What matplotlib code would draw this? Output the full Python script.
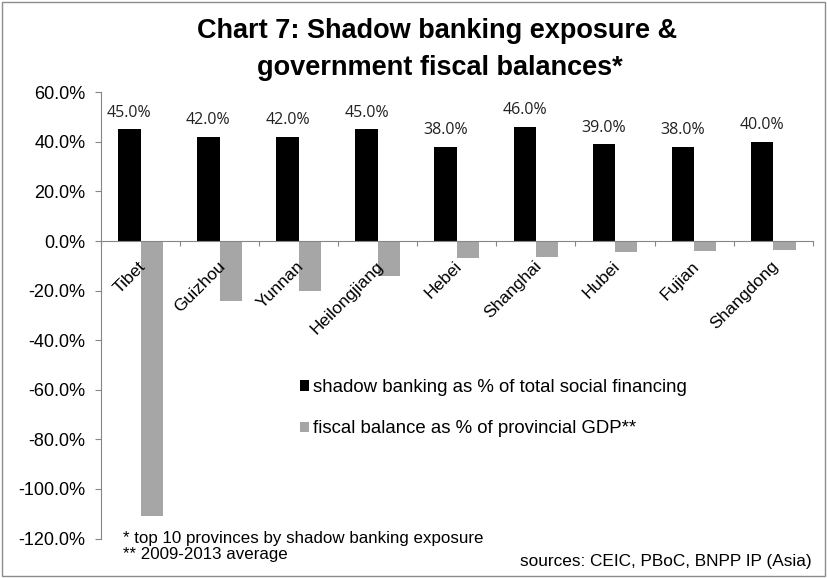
import matplotlib
matplotlib.use("Agg")
import matplotlib.pyplot as plt
import numpy as np
from matplotlib.patches import Rectangle
from matplotlib.ticker import FuncFormatter

provinces = ["Tibet", "Guizhou", "Yunnan", "Heilongjiang", "Hebei",
             "Shanghai", "Hubei", "Fujian", "Shangdong"]
shadow = [45.0, 42.0, 42.0, 45.0, 38.0, 46.0, 39.0, 38.0, 40.0]
fiscal = [-111.0, -24.2, -20.3, -14.3, -7.0, -6.5, -4.3, -4.0, -3.5]

plt.rcParams['font.family'] = ['Liberation Sans', 'DejaVu Sans']

fig = plt.figure(figsize=(8.27, 5.78), dpi=100)
ax = fig.add_axes([0.1221, 0.0683, 0.8606, 0.772])

x = np.arange(len(provinces))
w = 0.283
ax.bar(x - w/2, shadow, w, color="black",
       label="shadow banking as % of total social financing")
ax.bar(x + w/2, fiscal, w, color="#a6a6a6",
       label="fiscal balance as % of provincial GDP**")

for xi, v in zip(x, shadow):
    ax.text(xi - w/2, v + 3.5, "%.1f%%" % v, ha="center", va="bottom",
            fontsize=11.5, family=["Open Sans", "DejaVu Sans"], color="#222222")

ax.set_xlim(-0.5, len(provinces) - 0.5)
ax.set_ylim(-120, 60)
ax.set_yticks(np.arange(-120, 61, 20))
ax.yaxis.set_major_formatter(FuncFormatter(lambda v, p: "%.1f%%" % v))
ax.tick_params(axis="y", labelsize=13, length=4.3, color="#868686", pad=7)

# category axis sits at zero
ax.spines["bottom"].set_position(("data", 0))
ax.spines["bottom"].set_color("#868686")
ax.spines["left"].set_color("#868686")
ax.spines["top"].set_visible(False)
ax.spines["right"].set_visible(False)
ax.set_xticks(np.arange(-0.5, len(provinces), 1.0))
ax.set_xticklabels([])
ax.tick_params(axis="x", length=3.6, color="#868686")
for xi, name in zip(x, provinces):
    ax.text(xi - 0.03, -7.0, name, rotation=45, ha="right", va="top",
            fontsize=12.5, rotation_mode="anchor")

ax.legend(loc="upper left", bbox_to_anchor=(0.2796, 0.357), frameon=False,
          fontsize=13.4, handlelength=0.5, handleheight=0.5,
          handletextpad=0.2, labelspacing=1.3, borderpad=0, borderaxespad=0)

fig.text(0.528, 0.947, "Chart 7: Shadow banking exposure &",
         ha="center", va="center", fontsize=19.5, fontweight="bold")
fig.text(0.532, 0.882, "government fiscal balances*",
         ha="center", va="center", fontsize=19.5, fontweight="bold")
fig.text(0.149, 0.054, "* top 10 provinces by shadow banking exposure\n** 2009-2013 average",
         ha="left", va="center", fontsize=12.2, linespacing=1.1)
fig.text(0.982, 0.029, "sources: CEIC, PBoC, BNPP IP (Asia)", ha="right",
         va="center", fontsize=12.4)

fig.patches.append(Rectangle((0.002, 0.003), 0.995, 0.994, transform=fig.transFigure,
                             fill=False, edgecolor="#8c8c8c", linewidth=1.0))

fig.savefig("out.png", dpi=100)
